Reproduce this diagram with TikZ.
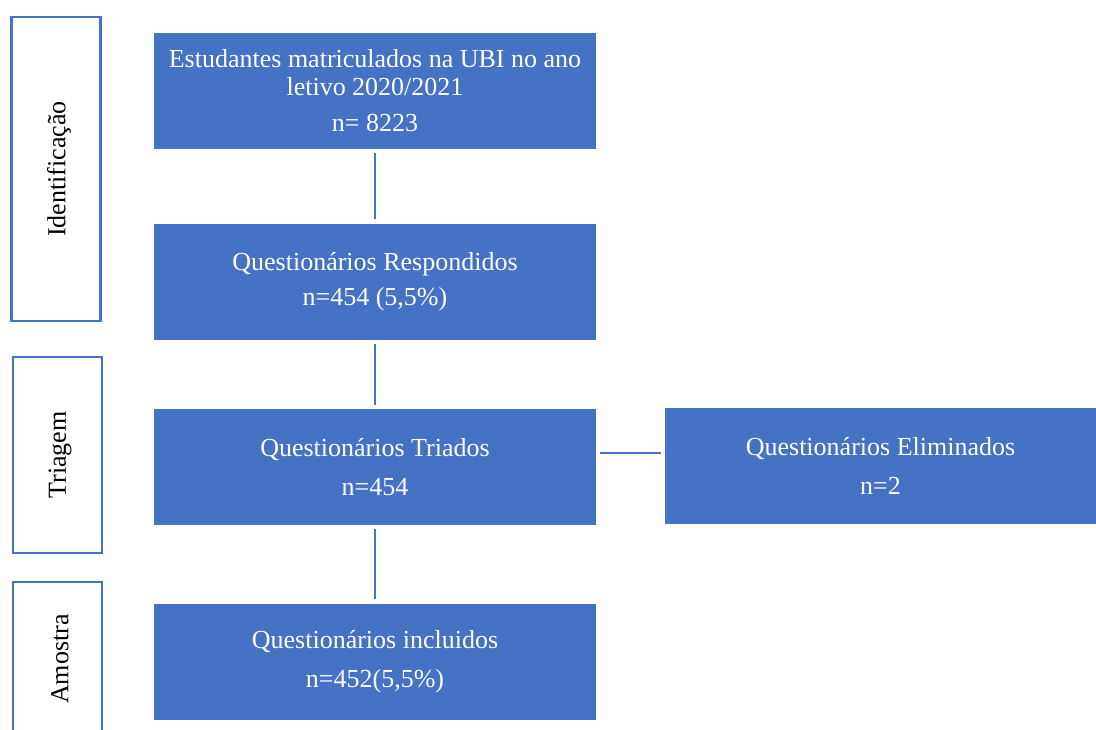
\documentclass[tikz,border=0pt]{standalone}
\usepackage{fontspec}
\setmainfont{Liberation Serif}
\usetikzlibrary{positioning}
\definecolor{boxblue}{RGB}{68,114,196}
\begin{document}
\begin{tikzpicture}[x=0.75pt,y=-0.75pt]
    \newcommand{\colX}[0]{375}
    \newcommand{\sideX}[0]{880.5}
    \newcommand{\txt}[0]{\fontsize{19.5}{21}\selectfont}

    \tikzstyle{mainbox}=[
      rectangle,
      fill=boxblue,
      text=white,
      align=center,
      anchor=center,
      minimum width=442*0.75pt,
      minimum height=116*0.75pt,
      font=\txt,
    ]

    \tikzstyle{phasebox}=[
      rectangle,
      draw=boxblue,
      line width=2pt,
      fill=white,
      anchor=center,
      minimum width=89*0.75pt,
    ]

    \tikzstyle{link} = [line width=1.5pt,draw=boxblue,shorten >=3pt,shorten <=3pt]

    \useasboundingbox (0,0) rectangle (1096,729);

    % phase labels
    \node[phasebox,minimum height=304*0.75pt] (ident) at (56,169) {};
    \node[rotate=90,font=\txt] at (59,169) {Identificação};
    \node[phasebox,minimum height=196*0.75pt] (triag) at (57.5,455) {};
    \node[rotate=90,font=\txt] at (60,455) {Triagem};
    \node[phasebox,minimum height=200*0.75pt] (amost) at (57.5,682) {};
    \node[rotate=90,font=\txt] at (60,659) {Amostra};

    % flow boxes
    \node[mainbox] (n1) at (\colX,91) {
      Estudantes matriculados na UBI no ano\\
      letivo 2020/2021\\[6pt]
      n= 8223
    };
    \node[mainbox] (n2) at (\colX,281.5) {
      Questionários Respondidos\\[5pt]
      n=454 (5,5\%)
    };
    \node[mainbox] (n3) at (\colX,467) {
      Questionários Triados\\[8pt]
      n=454
    };
    \node[mainbox] (n4) at (\colX,661.5) {
      Questionários incluidos\\[8pt]
      n=452(5,5\%)
    };
    \node[mainbox,minimum width=431*0.75pt] (n5) at (\sideX,466) {
      Questionários Eliminados\\[8pt]
      n=2
    };

    \draw[link] (n1)--(n2);
    \draw[link] (n2)--(n3);
    \draw[link] (n3)--(n4);
    \draw[link] (n3.east|-0,453)--(n5.west|-0,453);
  \end{tikzpicture}
\end{document}
